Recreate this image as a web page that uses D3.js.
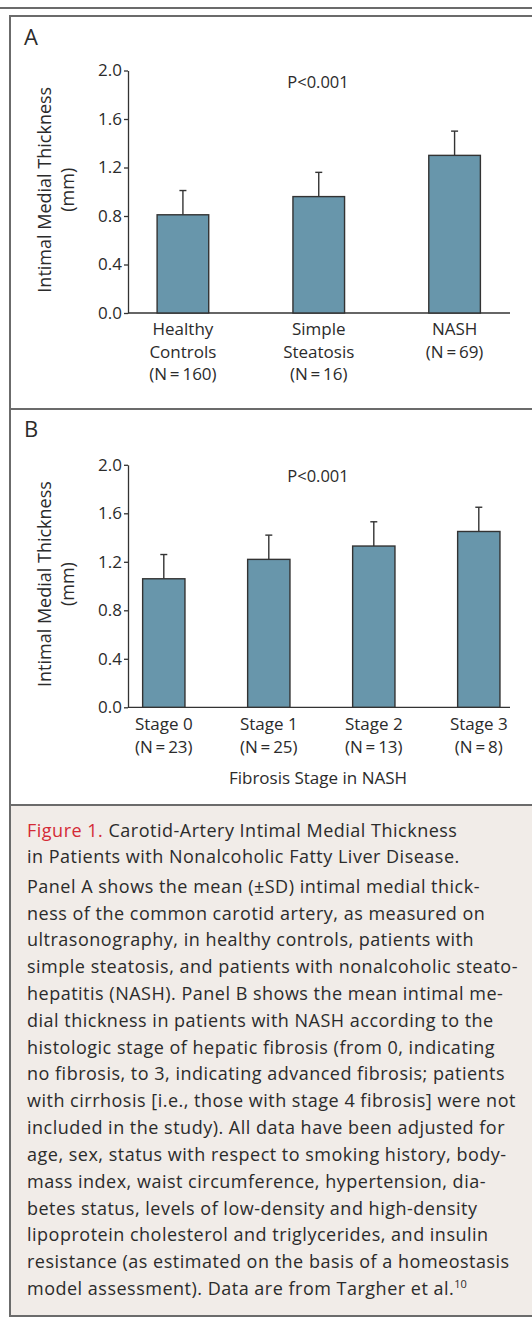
<!DOCTYPE html>
<html>

<head>
    <meta charset="UTF-8">
    <title>Carotid-Artery Intimal Medial Thickness</title>
    <script src="https://d3js.org/d3.v7.min.js"></script>
    <style>
        body { margin: 0; background: #fff; }
        text { font-family: "Open Sans", sans-serif; fill: #2b2b2b; }
    </style>
</head>

<body>
    <div id="fig"></div>
    <script type="text/javascript">
        // panel A
        const groupsA = [["Healthy", "Controls", "(N\u2009=\u2009160)"], ["Simple", "Steatosis", "(N\u2009=\u200916)"], ["NASH", "(N\u2009=\u200969)"]];
        const meanA = [0.81, 0.96, 1.30];
        const sdA = [0.20, 0.20, 0.20];
        // panel B
        const groupsB = [["Stage 0", "(N\u2009=\u200923)"], ["Stage 1", "(N\u2009=\u200925)"], ["Stage 2", "(N\u2009=\u200913)"], ["Stage 3", "(N\u2009=\u20098)"]];
        const meanB = [1.06, 1.22, 1.33, 1.45];
        const sdB = [0.20, 0.20, 0.20, 0.20];
        const yTicks = [0.0, 0.4, 0.8, 1.2, 1.6, 2.0];

        const captionTitle = ["Carotid-Artery Intimal Medial Thickness", "in Patients with Nonalcoholic Fatty Liver Disease."];
        const captionBody = [
            "Panel A shows the mean (\u00b1SD) intimal medial thick-",
            "ness of the common carotid artery, as measured on",
            "ultrasonography, in healthy controls, patients with",
            "simple steatosis, and patients with nonalcoholic steato-",
            "hepatitis (NASH). Panel B shows the mean intimal me-",
            "dial thickness in patients with NASH according to the",
            "histologic stage of hepatic fibrosis (from 0, indicating",
            "no fibrosis, to 3, indicating advanced fibrosis; patients",
            "with cirrhosis [i.e., those with stage 4 fibrosis] were not",
            "included in the study). All data have been adjusted for",
            "age, sex, status with respect to smoking history, body-",
            "mass index, waist circumference, hypertension, dia-",
            "betes status, levels of low-density and high-density",
            "lipoprotein cholesterol and triglycerides, and insulin",
            "resistance (as estimated on the basis of a homeostasis",
            "model assessment). Data are from Targher et al."
        ];

        const width = 532;
        const height = 1317;
        const frame = "#6b6b6b";
        const barFill = "#6896ab";
        const ink = "#333";

        const svg = d3.select("#fig")
            .append("svg")
            .attr("width", width)
            .attr("height", height);

        // caption background + frame
        svg.append("rect")
            .attr("x", 10).attr("y", 805)
            .attr("width", width - 10).attr("height", 510)
            .attr("fill", "#f1ece8");
        svg.append("line").attr("x1", 0).attr("x2", width).attr("y1", 8).attr("y2", 8)
            .attr("stroke", frame).attr("stroke-width", 2);
        [16, 409, 805, 1316].forEach(function (y) {
            svg.append("line").attr("x1", 9).attr("x2", width).attr("y1", y).attr("y2", y)
                .attr("stroke", frame).attr("stroke-width", 2);
        });
        svg.append("line").attr("x1", 10).attr("x2", 10).attr("y1", 15).attr("y2", 1317)
            .attr("stroke", frame).attr("stroke-width", 2);

        function panel(opts) {
            const g = svg.append("g");
            const y = d3.scaleLinear().domain([0, 2]).range([opts.y0, opts.y0 - 242.5]);
            const x = d3.scaleBand()
                .domain(d3.range(opts.means.length))
                .range(opts.xr)
                .paddingInner(opts.pad)
                .paddingOuter(opts.pad / 2);

            g.append("text").attr("x", 24).attr("y", opts.labelY)
                .attr("font-size", 22).text(opts.label);

            const yAxis = g.append("g")
                .attr("transform", "translate(128,0)")
                .call(d3.axisLeft(y).tickValues(yTicks).tickSize(4).tickSizeOuter(0)
                    .tickPadding(2).tickFormat(d3.format(".1f")));
            yAxis.select(".domain").attr("stroke", ink).attr("stroke-width", 1.3);
            yAxis.selectAll(".tick line").attr("stroke", ink).attr("stroke-width", 1.3);
            yAxis.selectAll(".tick text").attr("font-size", 17).attr("font-family", "Open Sans")
                .attr("fill", "#2b2b2b");

            g.append("line")
                .attr("x1", 128).attr("x2", 510)
                .attr("y1", y(0)).attr("y2", y(0))
                .attr("stroke", ink).attr("stroke-width", 1.3);

            const cy = y(1) - 2;
            g.append("text")
                .attr("transform", "translate(45," + cy + ")rotate(-90)")
                .attr("text-anchor", "middle").attr("dy", "0.35em")
                .attr("font-size", 18).text("Intimal Medial Thickness");
            g.append("text")
                .attr("transform", "translate(68," + cy + ")rotate(-90)")
                .attr("text-anchor", "middle").attr("dy", "0.35em")
                .attr("font-size", 18).text("(mm)");

            g.append("text").attr("x", 318).attr("y", y(2) + 17)
                .attr("text-anchor", "middle").attr("font-size", 16.5).text("P<0.001");

            const bars = g.selectAll("g.bar")
                .data(opts.means)
                .enter()
                .append("g").attr("class", "bar");
            bars.append("line")
                .attr("x1", function (d, i) { return x(i) + x.bandwidth() / 2; })
                .attr("x2", function (d, i) { return x(i) + x.bandwidth() / 2; })
                .attr("y1", function (d) { return y(d); })
                .attr("y2", function (d, i) { return y(d + opts.sds[i]); })
                .attr("stroke", ink).attr("stroke-width", 1.4);
            bars.append("line")
                .attr("x1", function (d, i) { return x(i) + x.bandwidth() / 2 - 3.5; })
                .attr("x2", function (d, i) { return x(i) + x.bandwidth() / 2 + 3.5; })
                .attr("y1", function (d, i) { return y(d + opts.sds[i]); })
                .attr("y2", function (d, i) { return y(d + opts.sds[i]); })
                .attr("stroke", ink).attr("stroke-width", 1.4);
            bars.append("rect")
                .attr("x", function (d, i) { return x(i); })
                .attr("y", function (d) { return y(d); })
                .attr("width", x.bandwidth())
                .attr("height", function (d) { return y(0) - y(d); })
                .attr("fill", barFill)
                .attr("stroke", ink).attr("stroke-width", 1.4);

            const labels = g.selectAll("text.cat")
                .data(opts.groups)
                .enter()
                .append("text").attr("class", "cat")
                .attr("text-anchor", "middle")
                .attr("font-size", 17);
            labels.selectAll("tspan")
                .data(function (d, i) { return d.map(function (s) { return { s: s, i: i }; }); })
                .enter()
                .append("tspan")
                .attr("x", function (d) { return x(d.i) + x.bandwidth() / 2; })
                .attr("y", function (d, j) { return opts.catY + j * 22.5; })
                .text(function (d) { return d.s; });
            return g;
        }

        panel({
            label: "A", labelY: 45, y0: 313, xr: [115, 522.5], pad: 0.62,
            means: meanA, sds: sdA, groups: groupsA, catY: 335
        });
        panel({
            label: "B", labelY: 437, y0: 707.3, xr: [111.3, 531.3], pad: 0.597,
            means: meanB, sds: sdB, groups: groupsB, catY: 730
        });
        svg.append("text").attr("x", 318).attr("y", 784)
            .attr("text-anchor", "middle").attr("font-size", 17).text("Fibrosis Stage in NASH");

        // caption
        const cap = svg.append("g").attr("font-size", 18).attr("letter-spacing", 0.5);
        const t1 = cap.append("text").attr("x", 27).attr("y", 836.7);
        t1.append("tspan").attr("fill", "#d42a36").style("fill", "#d42a36").text("Figure 1. ");
        t1.append("tspan").text(captionTitle[0]);
        cap.append("text").attr("x", 27).attr("y", 862.7).text(captionTitle[1]);
        const body = cap.selectAll("text.body")
            .data(captionBody)
            .enter()
            .append("text").attr("class", "body")
            .attr("x", 27)
            .attr("y", function (d, i) { return 892.7 + i * 26.82; })
            .text(function (d) { return d; });
        body.filter(function (d, i) { return i === captionBody.length - 1; })
            .append("tspan").attr("font-size", 11).attr("letter-spacing", 0).attr("dy", -7).text("10");
    </script>
</body>

</html>
